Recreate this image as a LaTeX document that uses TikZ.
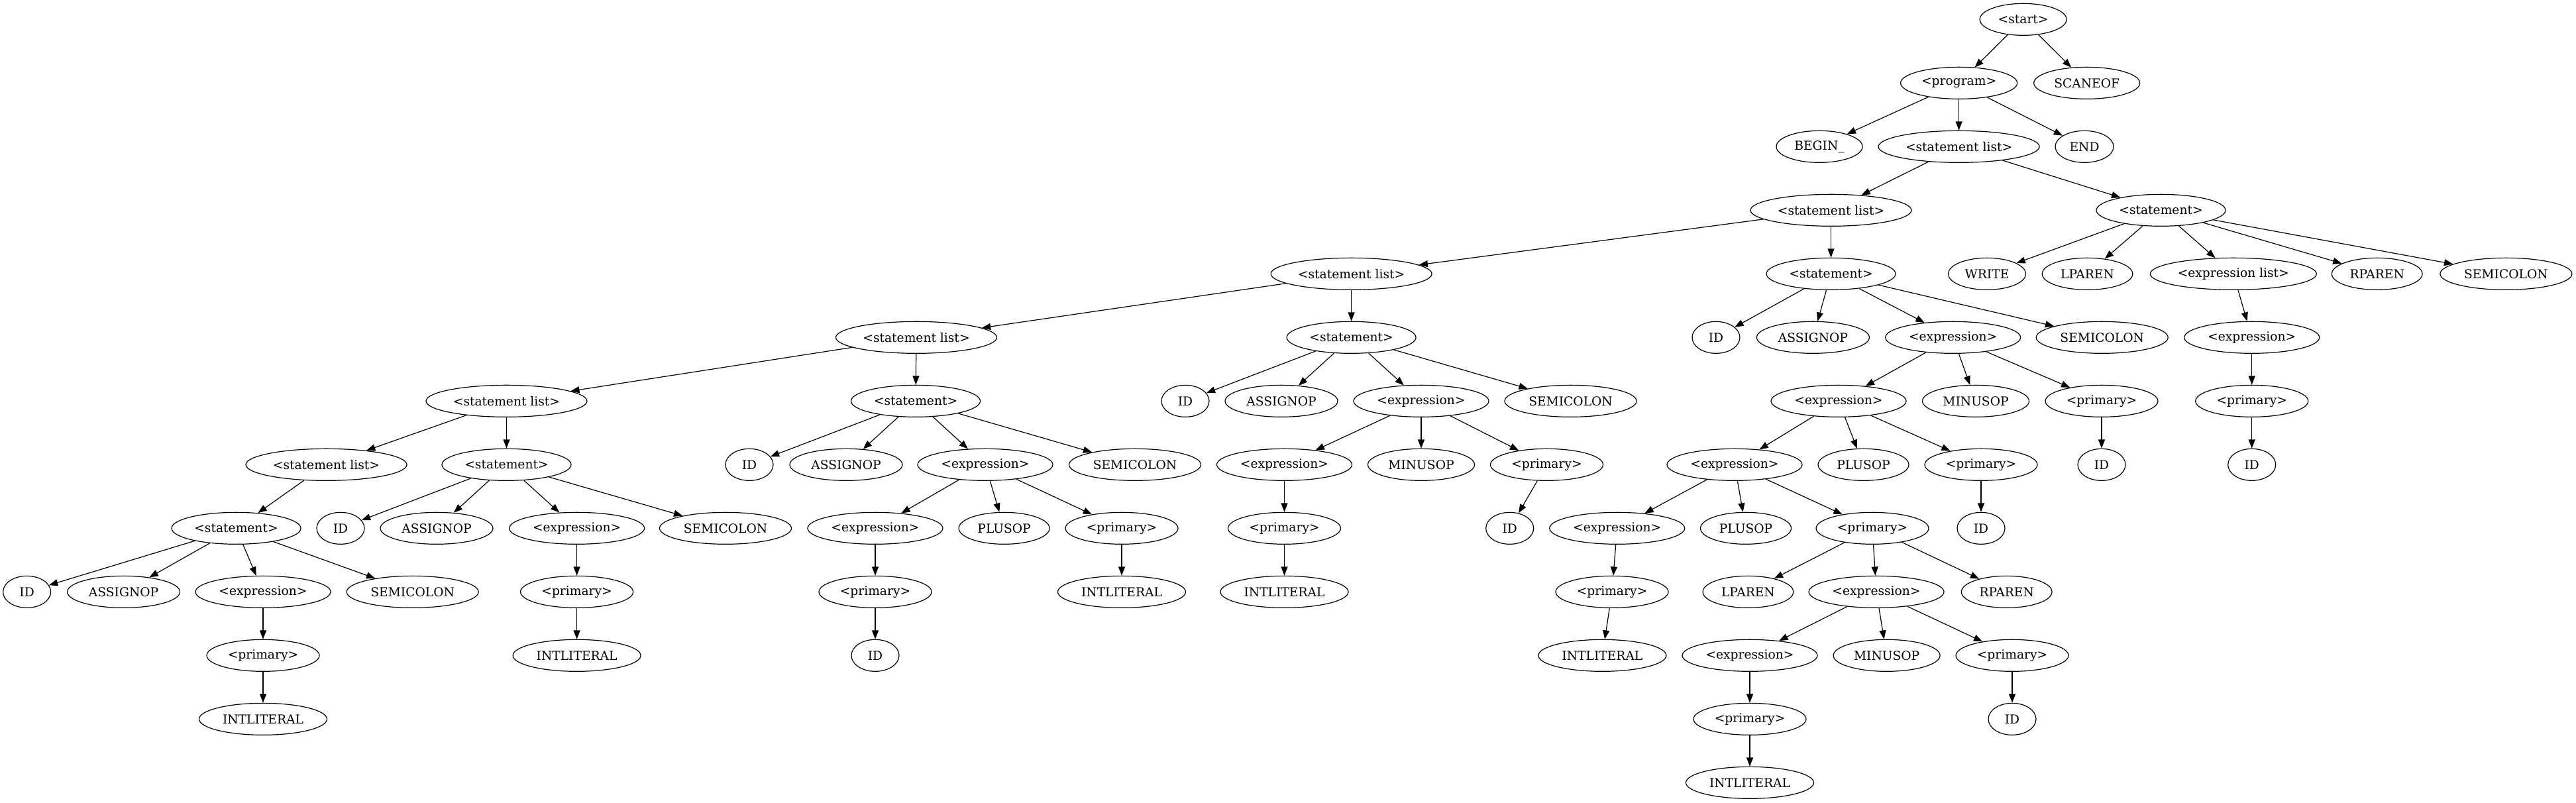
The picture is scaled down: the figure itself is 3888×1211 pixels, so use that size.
\documentclass[tikz,border=0pt]{standalone}
\usepackage{fontspec}
\setmainfont{DejaVu Serif}
\usetikzlibrary{shapes.geometric,arrows.meta}
\begin{document}
\begin{tikzpicture}[x=0.75pt,y=-0.75pt,
  nd/.style={ellipse,draw,line width=0.9pt,inner sep=0pt,minimum height=36pt,font=\fontsize{14pt}{16pt}\selectfont},
  SL/.style={nd,minimum width=182.25pt},
  STM/.style={nd,minimum width=146.25pt},
  IDN/.style={nd,minimum width=54pt},
  ASG/.style={nd,minimum width=127.5pt},
  EXP/.style={nd,minimum width=153pt},
  SEM/.style={nd,minimum width=149.25pt},
  PRI/.style={nd,minimum width=127.5pt},
  INT/.style={nd,minimum width=144.75pt},
  MIN/.style={nd,minimum width=120.75pt},
  PLU/.style={nd,minimum width=102.75pt},
  BEG/.style={nd,minimum width=97.5pt},
  ENDN/.style={nd,minimum width=66pt},
  PROG/.style={nd,minimum width=132pt},
  SCAN/.style={nd,minimum width=120pt},
  STRT/.style={nd,minimum width=98.25pt},
  WRT/.style={nd,minimum width=87.75pt},
  PAR/.style={nd,minimum width=102.5pt},
  EXL/.style={nd,minimum width=188.25pt},
  conn/.style={line width=0.9pt,-{Triangle[length=10pt,width=7.5pt]}}
]
\useasboundingbox (0,0) rectangle (3888,1211);
% level 0
\node[STRT] (start) at (3053.6,29.33) {<start>};
% level 1
\node[PROG] (prog) at (2956.6,125.33) {<program>};
\node[SCAN] (scaneof) at (3149.7,125.33) {SCANEOF};
% level 2
\node[BEG] (begin) at (2746,221.33) {BEGIN\_};
\node[SL] (slA) at (2956.6,221.33) {<statement list>};
\node[ENDN] (endn) at (3146,221.33) {END};
% level 3
\node[SL] (slB) at (2763.5,317.33) {<statement list>};
\node[STM] (stA) at (3261.5,317.33) {<statement>};
% level 4
\node[SL] (slC) at (2039.6,413.33) {<statement list>};
\node[STM] (stB) at (2763.5,413.33) {<statement>};
\node[WRT] (write) at (2999,413.33) {WRITE};
\node[PAR] (lparA) at (3150.5,413.33) {LPAREN};
\node[EXL] (exlist) at (3370.8,413.33) {<expression list>};
\node[PAR] (rparA) at (3587.7,413.33) {RPAREN};
\node[SEM] (semiA) at (3782.4,413.33) {SEMICOLON};
% level 5
\node[SL] (slD) at (1383,509.33) {<statement list>};
\node[STM] (stC) at (2039.6,509.33) {<statement>};
\node[IDN] (idB) at (2590,509.33) {ID};
\node[ASG] (asgB) at (2736.4,509.33) {ASSIGNOP};
\node[EXP] (exB) at (2947.6,509.33) {<expression>};
\node[SEM] (semiB) at (3172.7,509.33) {SEMICOLON};
\node[EXP] (exA) at (3398.7,509.33) {<expression>};
% level 6
\node[SL] (slE) at (764.5,605.33) {<statement list>};
\node[STM] (stD) at (1382,605.33) {<statement>};
\node[IDN] (idC) at (1789,605.33) {ID};
\node[ASG] (asgC) at (1934,605.33) {ASSIGNOP};
\node[EXP] (exC) at (2145,605.33) {<expression>};
\node[SEM] (semiC) at (2370.5,605.33) {SEMICOLON};
\node[EXP] (exB2) at (2775,605.33) {<expression>};
\node[MIN] (minusB) at (2982,605.33) {MINUSOP};
\node[PRI] (prB) at (3172,605.33) {<primary>};
\node[PRI] (prA) at (3398.7,605.33) {<primary>};
% level 7
\node[SL] (slF) at (492.5,701.33) {<statement list>};
\node[STM] (stE) at (764.5,701.33) {<statement>};
\node[IDN] (idD) at (1131,701.33) {ID};
\node[ASG] (asgD) at (1277,701.33) {ASSIGNOP};
\node[EXP] (exD) at (1487,701.33) {<expression>};
\node[SEM] (semiD) at (1713,701.33) {SEMICOLON};
\node[EXP] (exC2) at (1938.5,701.33) {<expression>};
\node[MIN] (minusC) at (2145,701.33) {MINUSOP};
\node[PRI] (prC) at (2334.5,701.33) {<primary>};
\node[EXP] (exB3) at (2618,701.33) {<expression>};
\node[PLU] (plusB) at (2812.5,701.33) {PLUSOP};
\node[PRI] (prB2) at (2990,701.33) {<primary>};
\node[IDN] (idB1) at (3172,701.33) {ID};
\node[IDN] (idA) at (3398.7,701.33) {ID};
% level 8
\node[STM] (stF) at (356.5,797.33) {<statement>};
\node[IDN] (idE) at (514,797.33) {ID};
\node[ASG] (asgE) at (659,797.33) {ASSIGNOP};
\node[EXP] (exE) at (870.6,797.33) {<expression>};
\node[SEM] (semiE) at (1095,797.33) {SEMICOLON};
\node[EXP] (exD2) at (1321,797.33) {<expression>};
\node[PLU] (plusD) at (1515.6,797.33) {PLUSOP};
\node[PRI] (prD) at (1693,797.33) {<primary>};
\node[PRI] (prC2) at (1938.5,797.33) {<primary>};
\node[IDN] (idC1) at (2278.7,797.33) {ID};
\node[EXP] (exB4) at (2440.7,797.33) {<expression>};
\node[PLU] (plusB2) at (2635,797.33) {PLUSOP};
\node[PRI] (prB3) at (2826,797.33) {<primary>};
\node[IDN] (idB2) at (2990,797.33) {ID};
% level 9
\node[IDN] (idF) at (40.6,893.33) {ID};
\node[ASG] (asgF) at (186.6,893.33) {ASSIGNOP};
\node[EXP] (exF) at (397,893.33) {<expression>};
\node[SEM] (semiF) at (622.7,893.33) {SEMICOLON};
\node[PRI] (prE) at (870.6,893.33) {<primary>};
\node[PRI] (prD2) at (1321,893.33) {<primary>};
\node[INT] (intD) at (1693,893.33) {INTLITERAL};
\node[INT] (intC) at (1938.5,893.33) {INTLITERAL};
\node[PRI] (prB4) at (2433,893.33) {<primary>};
\node[PAR] (lparB) at (2638.4,893.33) {LPAREN};
\node[EXP] (exB5) at (2832,893.33) {<expression>};
\node[PAR] (rparB) at (3028.7,893.33) {RPAREN};
% level 10
\node[PRI] (prF) at (397,989.33) {<primary>};
\node[INT] (intE) at (870.6,989.33) {INTLITERAL};
\node[IDN] (idD2) at (1321,989.33) {ID};
\node[INT] (intB) at (2418.4,989.33) {INTLITERAL};
\node[EXP] (exB6) at (2641,989.33) {<expression>};
\node[MIN] (minusB2) at (2847.6,989.33) {MINUSOP};
\node[PRI] (prB5) at (3037,989.33) {<primary>};
% level 11
\node[INT] (intF) at (397,1085.33) {INTLITERAL};
\node[PRI] (prB6) at (2641,1085.33) {<primary>};
\node[IDN] (idB3) at (3037,1085.33) {ID};
% level 12
\node[INT] (intB2) at (2641,1181.33) {INTLITERAL};
% edges
\foreach \a/\b in {start/prog,start/scaneof,
  prog/begin,prog/slA,prog/endn,
  slA/slB,slA/stA,
  stA/write,stA/lparA,stA/exlist,stA/rparA,stA/semiA,
  exlist/exA,exA/prA,prA/idA,
  slB/slC,slB/stB,
  stB/idB,stB/asgB,stB/exB,stB/semiB,
  exB/exB2,exB/minusB,exB/prB,prB/idB1,
  exB2/exB3,exB2/plusB,exB2/prB2,prB2/idB2,
  exB3/exB4,exB3/plusB2,exB3/prB3,
  exB4/prB4,prB4/intB,
  prB3/lparB,prB3/exB5,prB3/rparB,
  exB5/exB6,exB5/minusB2,exB5/prB5,
  exB6/prB6,prB6/intB2,prB5/idB3,
  slC/slD,slC/stC,
  stC/idC,stC/asgC,stC/exC,stC/semiC,
  exC/exC2,exC/minusC,exC/prC,
  exC2/prC2,prC2/intC,prC/idC1,
  slD/slE,slD/stD,
  stD/idD,stD/asgD,stD/exD,stD/semiD,
  exD/exD2,exD/plusD,exD/prD,
  exD2/prD2,prD2/idD2,prD/intD,
  slE/slF,slE/stE,
  stE/idE,stE/asgE,stE/exE,stE/semiE,
  exE/prE,prE/intE,
  slF/stF,
  stF/idF,stF/asgF,stF/exF,stF/semiF,
  exF/prF,prF/intF}
  \draw[conn] (\a) -- (\b);
\end{tikzpicture}
\end{document}
